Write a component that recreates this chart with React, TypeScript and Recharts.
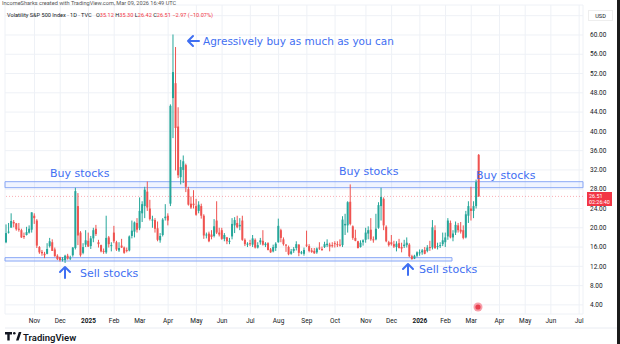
import React from "react";
import {
  Bar,
  CartesianGrid,
  ComposedChart,
  ReferenceArea,
  ReferenceLine,
  XAxis,
  YAxis,
} from "recharts";

// each candle covers about two sessions: [open, high, low, close]
type Candle = [number, number, number, number];

const oct24: Candle[] = [
  [17.0, 20.7, 16.8, 18.9], [19.0, 21.0, 18.8, 19.2], [20.0, 23.0, 20.2, 21.4],
  [21.2, 21.6, 20.1, 20.9], [20.9, 21.0, 19.4, 19.7], [19.8, 21.0, 19.2, 19.6],
  [19.5, 19.8, 17.9, 18.0], [18.3, 19.0, 17.7, 18.2], [18.5, 20.2, 18.4, 19.1],
  [19.0, 20.5, 18.8, 19.8], [19.6, 23.2, 19.0, 23.2],
];
const nov24: Candle[] = [
  [22.5, 23.0, 20.8, 22.0], [21.5, 21.8, 15.8, 16.3], [16.0, 16.2, 14.6, 14.9],
  [15.0, 15.4, 14.2, 14.7], [14.6, 15.0, 13.7, 14.3], [14.6, 16.8, 14.5, 15.6],
  [16.2, 17.9, 15.9, 17.2], [17.0, 17.6, 15.2, 15.2], [15.5, 15.9, 14.0, 14.1],
  [14.2, 14.5, 13.3, 13.5],
];
const dec24: Candle[] = [
  [13.9, 14.0, 13.0, 13.3], [13.3, 13.9, 13.0, 13.5], [13.3, 14.4, 12.7, 14.2],
  [14.2, 14.6, 13.4, 13.6], [13.6, 14.2, 13.3, 13.8], [14.3, 16.0, 14.0, 15.9],
  [15.8, 28.3, 15.5, 27.6], [24.5, 27.2, 16.4, 18.4], [19.0, 19.3, 14.0, 14.3],
  [14.8, 16.8, 14.5, 16.0], [16.5, 19.5, 16.0, 17.4],
];
const jan25: Candle[] = [
  [17.3, 19.0, 16.0, 16.1], [16.2, 18.3, 15.6, 17.8], [17.8, 20.0, 17.0, 19.5],
  [19.8, 20.6, 18.3, 18.7], [17.0, 17.5, 15.9, 16.6], [16.4, 16.5, 14.9, 15.1],
  [15.2, 15.7, 14.6, 15.0], [14.9, 22.5, 14.6, 17.9], [18.0, 18.3, 15.9, 16.6],
  [16.4, 17.0, 15.1, 16.4],
];
const feb25: Candle[] = [
  [19.0, 20.4, 16.8, 17.2], [17.0, 17.3, 15.2, 15.5], [15.3, 17.0, 15.0, 15.8],
  [16.3, 17.7, 15.8, 15.9], [15.9, 16.1, 14.6, 14.8], [15.4, 15.9, 14.9, 15.3],
  [15.3, 18.4, 15.1, 18.2], [18.3, 21.5, 17.8, 19.4], [19.2, 21.3, 18.0, 21.1],
  [21.0, 22.0, 19.0, 19.6],
];
const mar25: Candle[] = [
  [19.9, 26.3, 19.5, 23.5], [23.0, 25.5, 21.2, 24.9], [24.5, 28.5, 22.0, 27.9],
  [27.5, 29.6, 23.5, 24.2], [24.0, 25.8, 21.5, 21.8], [21.5, 22.5, 20.0, 21.7],
  [21.6, 22.0, 19.0, 19.8], [19.9, 21.3, 17.2, 17.5], [17.4, 18.9, 16.9, 18.3],
  [18.5, 22.0, 18.2, 21.7], [22.0, 24.9, 21.5, 22.3],
];
const apr25: Candle[] = [
  [22.5, 23.0, 20.5, 21.5], [25.0, 45.6, 24.5, 45.3], [46.9, 60.1, 38.6, 52.3],
  [50.0, 57.5, 31.9, 40.7], [41.0, 45.0, 30.3, 30.9], [30.5, 34.1, 29.0, 32.6],
  [32.0, 35.0, 29.3, 33.8], [33.0, 33.3, 27.4, 28.5], [28.0, 28.5, 24.6, 24.8],
  [25.0, 26.5, 23.9, 24.2], [25.0, 27.8, 24.0, 24.7],
];
const may25: Candle[] = [
  [24.5, 26.0, 22.5, 22.7], [23.5, 25.5, 23.0, 24.8], [24.5, 25.0, 21.9, 22.5],
  [22.5, 22.8, 17.7, 18.4], [18.5, 19.0, 17.8, 18.6], [18.8, 19.2, 17.0, 17.2],
  [18.6, 19.5, 17.6, 18.1], [18.3, 21.8, 18.0, 20.3], [21.5, 25.5, 18.7, 19.0],
  [19.0, 20.0, 18.2, 18.6],
];
const jun25: Candle[] = [
  [19.5, 20.0, 17.5, 17.7], [17.7, 18.9, 17.2, 18.5], [18.0, 18.1, 16.6, 17.2],
  [17.2, 17.9, 16.6, 17.3], [18.2, 22.0, 17.6, 20.8], [20.5, 22.2, 18.9, 21.6],
  [21.0, 22.5, 19.9, 20.1], [20.3, 22.0, 19.5, 20.6], [21.5, 22.5, 17.3, 17.5],
  [17.5, 17.8, 16.2, 16.6], [16.6, 17.0, 16.0, 16.7],
];
const jul25: Candle[] = [
  [16.8, 17.5, 16.2, 16.6], [16.5, 18.5, 16.0, 17.8], [17.5, 17.8, 15.7, 15.9],
  [15.9, 17.0, 15.7, 16.4], [17.0, 17.9, 16.5, 17.4], [17.3, 19.5, 16.3, 16.5],
  [16.4, 17.0, 16.0, 16.7], [16.8, 17.0, 15.3, 15.4], [15.5, 15.8, 14.8, 14.9],
  [15.1, 16.5, 14.9, 16.0], [15.8, 17.0, 15.2, 16.7],
];
const aug25: Candle[] = [
  [17.0, 21.9, 16.9, 20.4], [19.5, 19.8, 17.0, 17.9], [17.6, 18.0, 16.3, 16.6],
  [16.5, 16.6, 15.0, 16.3], [16.0, 16.3, 14.3, 14.5], [14.6, 15.6, 14.4, 15.1],
  [15.2, 16.0, 14.8, 15.6], [15.8, 17.2, 15.3, 16.6], [16.5, 16.6, 14.1, 14.8],
  [14.9, 15.2, 14.5, 14.9], [14.6, 15.9, 14.2, 15.4],
];
const sep25: Candle[] = [
  [16.5, 19.4, 16.0, 16.4], [16.2, 16.6, 14.9, 15.2], [15.3, 15.8, 14.8, 15.0],
  [15.2, 15.8, 14.6, 14.7], [14.9, 15.9, 14.6, 15.7], [15.9, 17.0, 15.4, 15.7],
  [15.6, 16.1, 15.2, 15.5], [16.0, 17.1, 15.8, 16.6], [16.4, 17.6, 16.0, 16.7],
  [16.5, 16.9, 15.1, 16.1], [16.4, 17.0, 15.9, 16.3],
];
const oct25: Candle[] = [
  [16.8, 17.2, 15.9, 16.6], [16.6, 17.2, 16.0, 16.4], [16.5, 17.6, 16.1, 16.3],
  [16.4, 22.4, 16.0, 21.7], [20.5, 22.9, 18.5, 20.8], [20.5, 25.5, 19.0, 25.3],
  [25.4, 29.0, 20.5, 20.8], [20.3, 20.5, 17.5, 17.9], [17.9, 19.6, 17.2, 17.3],
  [17.2, 17.3, 15.7, 15.8], [16.0, 17.4, 15.9, 16.9], [17.0, 17.6, 16.3, 17.4],
];
const nov25: Candle[] = [
  [17.5, 20.0, 16.9, 19.0], [18.8, 20.3, 17.6, 19.5], [19.6, 22.0, 17.3, 17.6],
  [17.6, 18.2, 16.9, 17.5], [17.6, 22.9, 17.4, 19.8], [20.0, 25.3, 19.8, 24.7],
  [24.5, 28.3, 21.5, 26.4], [26.0, 26.3, 19.5, 20.5], [20.2, 20.5, 17.0, 17.2],
  [17.0, 17.3, 16.1, 16.4],
];
const dec25: Candle[] = [
  [17.0, 18.5, 16.3, 16.6], [16.6, 17.3, 15.8, 16.1], [16.0, 17.2, 15.1, 16.7],
  [16.8, 17.7, 15.7, 15.8], [16.0, 16.9, 14.9, 15.7], [16.2, 17.5, 15.8, 16.5],
  [16.4, 18.0, 15.9, 16.9], [16.5, 16.8, 13.9, 14.1], [14.1, 14.4, 13.4, 13.5],
  [13.6, 14.4, 13.5, 14.2], [14.2, 15.1, 13.9, 14.9],
];
const jan26: Candle[] = [
  [14.8, 15.5, 14.2, 14.9], [14.9, 15.6, 14.4, 15.3], [15.4, 16.0, 14.5, 14.6],
  [15.2, 16.4, 14.9, 15.9], [16.0, 17.3, 15.2, 15.8], [15.9, 21.6, 15.5, 20.1],
  [19.5, 20.5, 15.6, 15.8], [16.0, 16.9, 15.5, 16.2], [16.3, 17.0, 15.8, 16.4],
  [16.6, 19.0, 16.2, 17.4],
];
const feb26: Candle[] = [
  [17.0, 19.0, 16.0, 18.0], [18.2, 22.0, 17.5, 21.5], [21.0, 21.5, 17.8, 18.0],
  [18.0, 19.5, 17.2, 18.8], [19.0, 21.3, 18.5, 20.6], [20.5, 21.0, 19.0, 19.5],
  [19.6, 21.2, 18.8, 19.2], [19.5, 20.5, 17.6, 17.9], [18.0, 23.5, 17.8, 22.8],
  [22.5, 25.5, 21.0, 24.5],
];
const mar26: Candle[] = [
  [24.0, 28.5, 21.5, 23.5], [23.5, 25.5, 22.0, 24.5], [24.5, 30.0, 24.0, 29.48],
  [35.12, 35.3, 26.42, 26.51],
];

const monthLabels = ["", "Nov", "Dec", "2025", "Feb", "Mar", "Apr", "May", "Jun", "Jul", "Aug", "Sep", "Oct", "Nov", "Dec", "2026", "Feb", "Mar"];
const monthCandles = [oct24, nov24, dec24, jan25, feb25, mar25, apr25, may25, jun25, jul25, aug25, sep25, oct25, nov25, dec25, jan26, feb26, mar26];
// empty space on the right of the chart: label, number of slots
const futureMonths: [string, number][] = [["", 7], ["Apr", 10], ["May", 10], ["Jun", 11], ["Jul", 2]];

const yTicks = [4, 8, 12, 16, 20, 24, 28, 32, 36, 40, 44, 48, 52, 56, 60, 64];
const lastPrice = 26.51;
const buyBand: [number, number] = [28.32, 29.56];
const sellBand: [number, number] = [13.1, 13.8];

const UP = "#26a69a";
const DOWN = "#ef5350";
const BLUE = "#3f6ff2";

const rows: any[] = [];
monthCandles.forEach((list, mi) => {
  list.forEach((c, i) => {
    rows.push({
      key: `m${mi}-${i}`,
      tick: i === 0 ? monthLabels[mi] : "",
      o: c[0], h: c[1], l: c[2], c: c[3],
      range: [c[2], c[1]],
    });
  });
});
futureMonths.forEach(([label, n], fi) => {
  for (let i = 0; i < n; i++) {
    rows.push({ key: `f${fi}-${i}`, tick: i === 0 ? label : "", range: null });
  }
});
const tickKeys = rows.filter((r) => r.tick).map((r) => r.key);
const tickText: Record<string, string> = {};
rows.forEach((r) => { if (r.tick) tickText[r.key] = r.tick; });
const sellEndKey = rows[173].key;

const CandleShape = (props: any) => {
  const { x, y, width, height, payload } = props;
  if (!payload || payload.o == null) return null;
  const { o, h, l, c } = payload;
  const top = Math.min(y, y + height);
  const hh = Math.abs(height);
  const span = h - l || 1;
  const toY = (v: number) => top + ((h - v) / span) * hh;
  const color = c >= o ? UP : DOWN;
  const bTop = toY(Math.max(o, c));
  const bBot = toY(Math.min(o, c));
  const cx = x + width / 2;
  return (
    <g>
      <line x1={cx} x2={cx} y1={top} y2={top + hh} stroke={color} strokeWidth={1} />
      <rect x={x} y={bTop} width={width} height={Math.max(bBot - bTop, 1)} fill={color} />
    </g>
  );
};

const MonthTick = (props: any) => {
  const { x, payload } = props;
  const label = tickText[payload.value] || "";
  const bold = label.length === 4;
  return (
    <text x={x} y={323} textAnchor="middle" fontSize={6.5} fontWeight={bold ? 700 : 400} fill="#131722">
      {label}
    </text>
  );
};

const PriceTick = (props: any) => {
  const { y, payload } = props;
  if (payload.value > 62) return null; // hidden behind the currency box
  return (
    <text x={590} y={y + 2.2} fontSize={6.5} fill="#131722">
      {payload.value.toFixed(2)}
    </text>
  );
};

const txt: React.CSSProperties = {
  position: "absolute",
  color: BLUE,
  fontFamily: "'DejaVu Sans', sans-serif",
  fontSize: 11,
  whiteSpace: "nowrap",
  lineHeight: "12px",
};

export default function App() {
  return (
    <div style={{ position: "absolute", left: 0, top: 0, width: 620, height: 344, background: "#fff", overflow: "hidden", fontFamily: "Roboto, sans-serif" }}>
      <ComposedChart width={620} height={344} data={rows} margin={{ top: 5, right: 0, bottom: 16, left: 5 }}>
        <CartesianGrid stroke="#eef1f6" />
        <XAxis dataKey="key" ticks={tickKeys} interval={0} height={14} axisLine={false} tickLine={false} tick={<MonthTick />} />
        <YAxis orientation="right" width={37} domain={[2.11, 66.22]} ticks={yTicks} interval={0} axisLine={false} tickLine={false} tick={<PriceTick />} allowDataOverflow />
        <ReferenceArea y1={buyBand[0]} y2={buyBand[1]} fill="#2962ff" fillOpacity={0.07} stroke="#8aa8f6" strokeWidth={1} />
        <ReferenceArea x2={sellEndKey} y1={sellBand[0]} y2={sellBand[1]} fill="#2962ff" fillOpacity={0.07} stroke="#8aa8f6" strokeWidth={1} />
        <ReferenceLine y={lastPrice} stroke="#f23645" strokeOpacity={0.4} strokeDasharray="1 2" />
        <Bar dataKey="range" barSize={2} shape={<CandleShape />} isAnimationActive={false} />
      </ComposedChart>

      <div style={{ position: "absolute", left: 2, top: 0, fontSize: 5.6, color: "#555" }}>
        IncomeSharks created with TradingView.com, Mar 09, 2026 16:49 UTC
      </div>
      <div style={{ position: "absolute", left: 7, top: 12, fontSize: 5.6, color: "#131722", whiteSpace: "nowrap" }}>
        Volatility S&amp;P 500 Index · 1D · TVC{"  "}
        <span style={{ marginLeft: 3 }}>O</span><span style={{ color: "#f23645" }}>35.12</span>{" "}
        H<span style={{ color: "#f23645" }}>35.30</span>{" "}
        L<span style={{ color: "#f23645" }}>26.42</span>{" "}
        C<span style={{ color: "#f23645" }}>26.51</span>{" "}
        <span style={{ color: "#f23645" }}>−2.97 (−10.07%)</span>
      </div>
      <div style={{ position: "absolute", left: 588, top: 10, width: 25, height: 11, background: "#fff", border: "1px solid #eee", fontSize: 5.6, color: "#131722", display: "flex", alignItems: "center", justifyContent: "center", boxSizing: "border-box" }}>
        USD
      </div>
      <div style={{ position: "absolute", left: 587, top: 192, width: 25, height: 14, background: "#f23645", color: "#fff", fontSize: 5.4, lineHeight: "6.5px", padding: "0.5px 0 0 2px", boxSizing: "border-box" }}>
        26.51<br />02:26:40
      </div>

      <div style={{ ...txt, left: 50, top: 168 }}>Buy stocks</div>
      <div style={{ ...txt, left: 339, top: 166 }}>Buy stocks</div>
      <div style={{ ...txt, left: 476, top: 170 }}>Buy stocks</div>
      <div style={{ ...txt, left: 80, top: 268 }}>Sell stocks</div>
      <div style={{ ...txt, left: 419, top: 264 }}>Sell stocks</div>
      <div style={{ ...txt, left: 203, top: 35, fontSize: 10.5 }}>Agressively buy as much as you can</div>

      <svg width={620} height={344} style={{ position: "absolute", left: 0, top: 0, pointerEvents: "none" }}>
        <g stroke={BLUE} strokeWidth={2} fill="none" strokeLinecap="round" strokeLinejoin="round">
          <path d="M199 41 H188 M193 36 L188 41 L193 46" />
          <path d="M65 278 V267 M60 272 L65 267 L70 272" />
          <path d="M408 275 V264 M403 269 L408 264 L413 269" />
        </g>
        <circle cx={478} cy={307} r={4.5} fill="#f7a0ab" />
        <circle cx={478} cy={307} r={2.6} fill="#e8404f" />
        <line x1={5} x2={617} y1={328} y2={328} stroke="#e9ecf2" />
        <rect x={617} y={0} width={3} height={344} fill="#1b1b1b" />
        <g fill="#131722">
          <path d="M5 332 h7 v2.5 h-2.3 v6 h-2.4 v-6 h-2.3 z" />
          <circle cx={14.3} cy={333.3} r={1.3} />
          <path d="M16 340.5 l2.8 -8.5 h2.6 l-2.8 8.5 z" />
        </g>
        <text x={23} y={340.5} fontSize={9.5} fontWeight={600} fill="#131722" fontFamily="Roboto, sans-serif">TradingView</text>
      </svg>
    </div>
  );
}
